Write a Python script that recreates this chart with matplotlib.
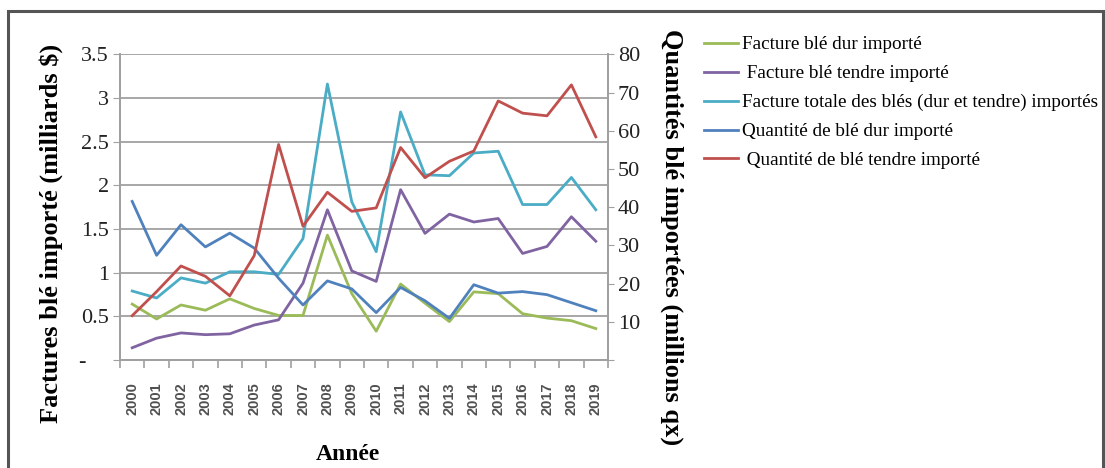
import matplotlib
matplotlib.use("Agg")
import matplotlib.pyplot as plt
from matplotlib.lines import Line2D
from matplotlib.patches import Rectangle
import numpy as np

# annees
years = [str(y) for y in range(2000, 2020)]

# factures (milliards $) - axe de gauche
facture_dur = [0.64, 0.47, 0.63, 0.57, 0.70, 0.59, 0.51, 0.51, 1.43, 0.76,
               0.33, 0.87, 0.65, 0.44, 0.78, 0.76, 0.53, 0.48, 0.45, 0.36]
facture_tendre = [0.14, 0.25, 0.31, 0.29, 0.30, 0.40, 0.46, 0.88, 1.72, 1.02,
                  0.90, 1.95, 1.45, 1.67, 1.58, 1.62, 1.22, 1.30, 1.64, 1.36]
facture_totale = [0.79, 0.71, 0.94, 0.88, 1.01, 1.01, 0.98, 1.39, 3.16, 1.81,
                  1.24, 2.84, 2.12, 2.11, 2.37, 2.39, 1.78, 1.78, 2.09, 1.72]

# quantites (millions qx) - axe de droite
quantite_dur = [41.5, 27.4, 35.4, 29.6, 33.2, 29.3, 21.4, 14.4, 20.7, 18.6,
                12.4, 19.0, 15.5, 10.9, 19.7, 17.5, 17.9, 17.1, 15.0, 12.9]
quantite_tendre = [11.6, 17.9, 24.6, 21.9, 16.8, 27.3, 56.4, 35.0, 43.9, 38.9,
                   39.8, 55.6, 47.7, 52.0, 54.7, 67.8, 64.6, 63.9, 72.0, 58.4]

left_ticks = [0, 0.5, 1, 1.5, 2, 2.5, 3, 3.5]
left_ticklabels = ["-    ", "0.5", "1", "1.5", "2", "2.5", "3", "3.5"]
right_ticks = [0, 10, 20, 30, 40, 50, 60, 70, 80]
right_ticklabels = ["", "10", "20", "30", "40", "50", "60", "70", "80"]

labels = ["Facture blé dur importé",
          " Facture blé tendre importé",
          "Facture totale des blés (dur et tendre) importés",
          "Quantité de blé dur importé",
          " Quantité de blé tendre importé"]
colors = ["#9BBB59", "#8064A2", "#4BACC6", "#4F81BD", "#C0504D"]

serif = "Liberation Serif"
grey = "#a0a0a0"
lw = 2.0

fig = plt.figure(figsize=(11.05, 4.68), dpi=100)
ax = fig.add_axes([120 / 1105, 1 - 360 / 468, 488 / 1105, 305.7 / 468])
ax2 = ax.twinx()

x = np.arange(len(years))
ax.plot(x, facture_dur, color=colors[0], lw=lw)
ax.plot(x, facture_tendre, color=colors[1], lw=lw)
ax.plot(x, facture_totale, color=colors[2], lw=lw)
ax2.plot(x, quantite_dur, color=colors[3], lw=lw)
ax2.plot(x, quantite_tendre, color=colors[4], lw=lw)

ax.set_xlim(-0.5, len(years) - 0.5)
ax.set_ylim(0, 3.5)
ax2.set_ylim(0, 80)

# grille horizontale sur l'axe principal
ax.set_yticks(left_ticks)
ax.set_yticklabels(left_ticklabels, family=serif, fontsize=16, color="#222222")
ax.yaxis.grid(True, color=grey, lw=1.3)
ax.set_axisbelow(True)
ax.tick_params(axis="y", length=5, color=grey, pad=3)

ax2.set_yticks(right_ticks)
ax2.set_yticklabels(right_ticklabels, family=serif, fontsize=16, color="#222222")
ax2.tick_params(axis="y", length=4, color=grey, pad=3)

# graduations entre les categories
ax.set_xticks(x)
ax.set_xticklabels(years, rotation=90, family="Liberation Sans", fontsize=10.5,
                   fontweight="bold", color="#505050")
ax.tick_params(axis="x", length=0, pad=16)
ax.set_xticks(np.arange(-0.5, len(years)), minor=True)
ax.tick_params(axis="x", which="minor", length=6, color=grey, width=1.2)

for a in (ax, ax2):
    a.spines["top"].set_visible(False)
    for s in ("left", "right", "bottom"):
        a.spines[s].set_color(grey)
        a.spines[s].set_linewidth(1.3)

fig.text(51 / 1105, 1 - 233 / 468, "Factures blé importé (milliards $)",
         rotation=90, ha="center", va="center", family=serif,
         fontweight="bold", fontsize=19)
fig.text(672 / 1105, 1 - 237 / 468, "Quantités blé importées (millions qx)",
         rotation=-90, ha="center", va="center", family=serif,
         fontweight="bold", fontsize=19)
fig.text(348 / 1105, 1 - 455 / 468, "Année", ha="center", va="center",
         family=serif, fontweight="bold", fontsize=17)

handles = [Line2D([], [], color=c, lw=lw) for c in colors]
fig.legend(handles, labels, loc="upper left",
           bbox_to_anchor=(704 / 1105, 1 - 36 / 468), frameon=False,
           borderpad=0, borderaxespad=0, handlelength=1.75, handletextpad=0.25,
           labelspacing=0.6, prop={"family": serif, "size": 13.8})

# cadre exterieur
fig.patches.append(Rectangle((8 / 1105, -0.05), 1095 / 1105, 1.05 - 11 / 468,
                             transform=fig.transFigure, fill=False,
                             edgecolor="#555555", lw=2.2))

fig.savefig("out.png", dpi=100)
